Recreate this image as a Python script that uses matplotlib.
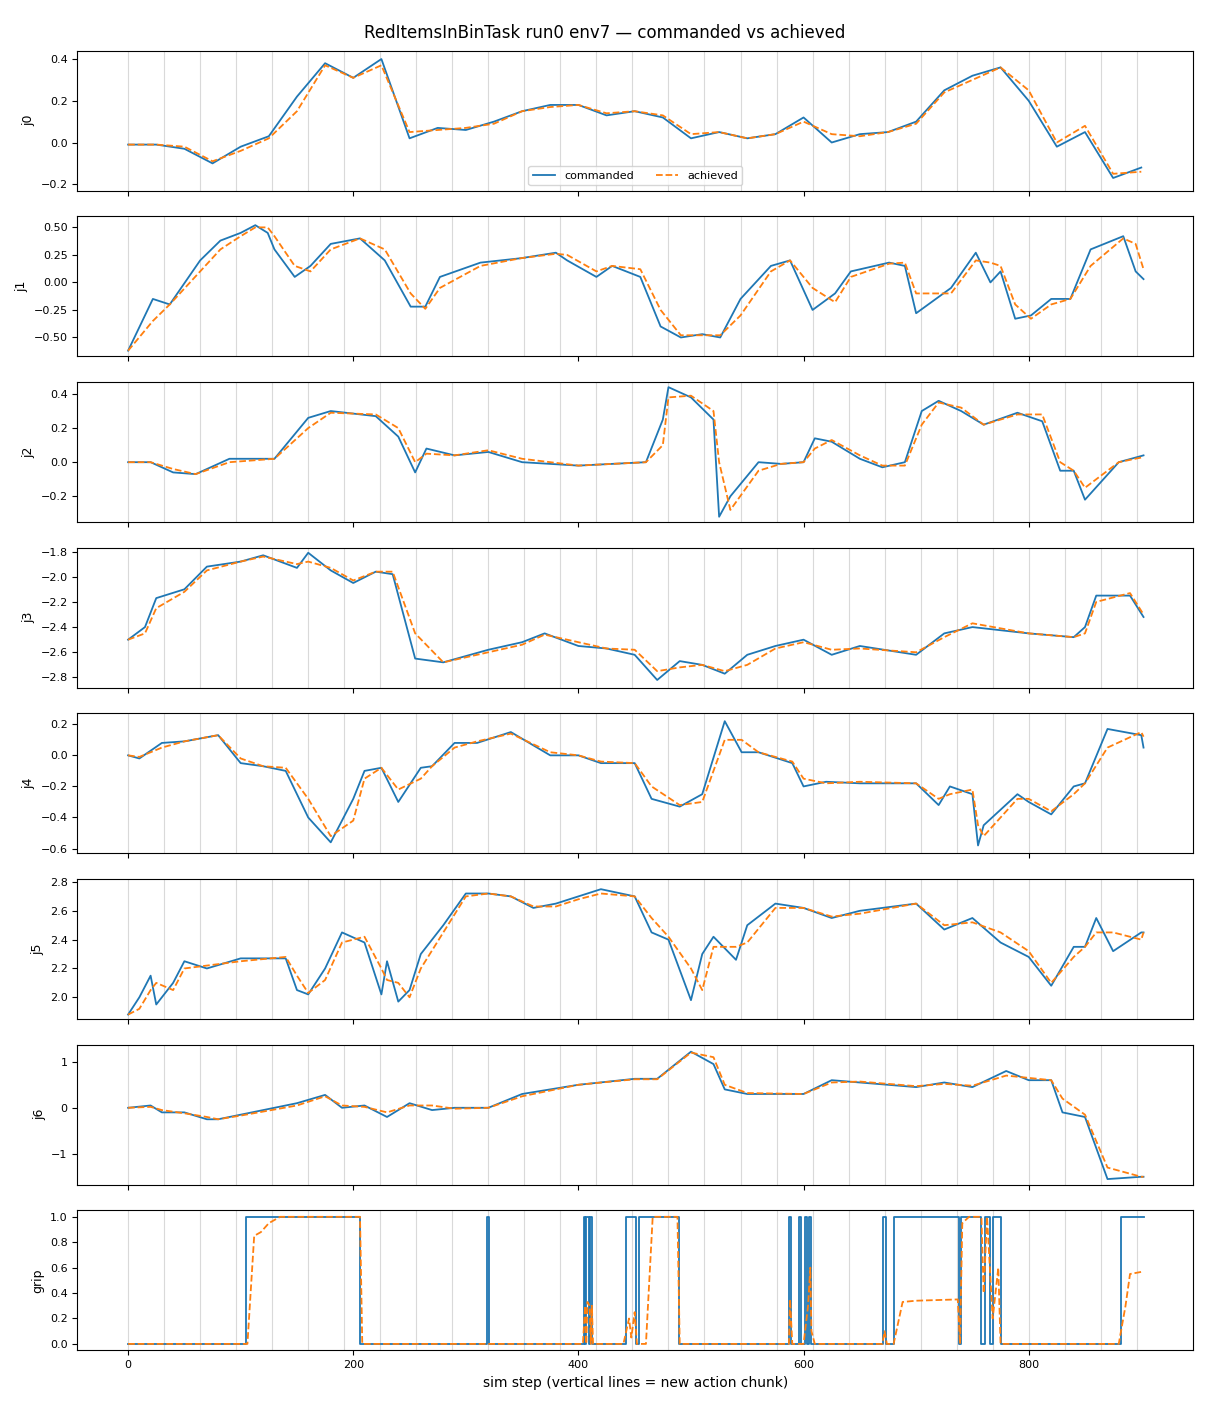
import numpy as np
import matplotlib
matplotlib.use("Agg")
import matplotlib.pyplot as plt

# ---------------- data ----------------
chunk_starts = list(range(0, 900, 32))

j0_steps = [0,25,50,75,100,125,150,175,200,225,250,275,300,325,350,375,400,425,450,475,500,525,550,575,600,625,650,675,700,725,750,775,800,825,850,875,900]
j0_cmd = [-0.01,-0.01,-0.03,-0.10,-0.02,0.03,0.22,0.38,0.31,0.40,0.02,0.07,0.06,0.10,0.15,0.18,0.18,0.13,0.15,0.12,0.02,0.05,0.02,0.04,0.12,0.00,0.04,0.05,0.10,0.25,0.32,0.36,0.20,-0.02,0.05,-0.17,-0.12]
j0_ach = [-0.01,-0.01,-0.02,-0.09,-0.04,0.02,0.15,0.37,0.31,0.37,0.05,0.06,0.07,0.09,0.15,0.17,0.18,0.14,0.15,0.13,0.04,0.05,0.02,0.04,0.10,0.04,0.03,0.05,0.09,0.24,0.30,0.36,0.25,0.00,0.08,-0.15,-0.14]

j1_steps = [0,22,37,64,82,100,113,124,130,148,162,180,206,228,251,264,277,313,349,380,390,416,430,455,473,491,510,526,544,571,588,608,628,642,676,690,700,731,753,766,775,788,802,820,837,855,884,895,902]
j1_cmd = [-0.62,-0.15,-0.2,0.2,0.38,0.45,0.52,0.45,0.3,0.05,0.15,0.35,0.40,0.2,-0.22,-0.22,0.05,0.18,0.22,0.27,0.2,0.05,0.15,0.05,-0.40,-0.50,-0.47,-0.50,-0.15,0.15,0.2,-0.25,-0.10,0.10,0.18,0.15,-0.28,-0.05,0.27,0.0,0.1,-0.33,-0.30,-0.15,-0.15,0.30,0.42,0.10,0.03]
j1_ach = [-0.62,-0.35,-0.2,0.1,0.3,0.42,0.50,0.50,0.42,0.15,0.10,0.30,0.40,0.3,-0.10,-0.24,-0.05,0.15,0.22,0.26,0.25,0.10,0.15,0.12,-0.25,-0.48,-0.48,-0.48,-0.30,0.10,0.2,-0.05,-0.18,0.05,0.17,0.18,-0.10,-0.10,0.20,0.18,0.15,-0.20,-0.33,-0.20,-0.15,0.15,0.40,0.35,0.12]

j2_steps = [0,20,40,60,90,130,160,180,220,240,255,265,290,320,350,400,460,475,480,500,520,525,535,560,580,600,610,625,650,670,690,705,720,740,760,790,812,828,840,850,880,902]
j2_cmd = [0,0.0,-0.06,-0.07,0.02,0.02,0.26,0.30,0.27,0.15,-0.06,0.08,0.04,0.06,0.0,-0.02,0.0,0.25,0.44,0.38,0.25,-0.32,-0.20,0.0,-0.01,0.0,0.14,0.12,0.02,-0.03,0.0,0.30,0.36,0.30,0.22,0.29,0.24,-0.05,-0.05,-0.22,0.0,0.04]
j2_ach = [0,0.0,-0.04,-0.07,0.0,0.02,0.20,0.29,0.28,0.20,0.0,0.05,0.04,0.07,0.02,-0.02,0.0,0.10,0.38,0.39,0.30,0.0,-0.28,-0.05,-0.01,0.0,0.08,0.13,0.04,-0.02,-0.02,0.22,0.35,0.32,0.22,0.28,0.28,0.0,-0.05,-0.15,0.0,0.03]

j3_steps = [0,15,25,50,70,100,120,150,160,180,200,220,235,255,280,320,350,370,400,425,450,470,490,510,530,550,575,600,625,650,700,725,750,800,840,850,860,890,902]
j3_cmd = [-2.5,-2.4,-2.17,-2.1,-1.92,-1.88,-1.83,-1.93,-1.81,-1.95,-2.05,-1.96,-1.98,-2.65,-2.68,-2.58,-2.52,-2.45,-2.55,-2.57,-2.62,-2.82,-2.67,-2.70,-2.77,-2.62,-2.55,-2.50,-2.62,-2.55,-2.62,-2.45,-2.40,-2.45,-2.48,-2.40,-2.15,-2.15,-2.32]
j3_ach = [-2.5,-2.45,-2.25,-2.12,-1.95,-1.88,-1.84,-1.90,-1.88,-1.93,-2.03,-1.96,-1.96,-2.45,-2.68,-2.60,-2.54,-2.46,-2.52,-2.57,-2.58,-2.75,-2.72,-2.70,-2.75,-2.70,-2.57,-2.52,-2.58,-2.57,-2.60,-2.48,-2.37,-2.45,-2.48,-2.45,-2.20,-2.13,-2.30]

j4_steps = [0,10,30,50,80,100,120,140,160,180,200,210,225,240,260,270,290,310,340,375,400,420,450,465,490,510,530,545,560,590,600,620,650,700,720,730,750,755,760,790,800,820,840,850,870,900,902]
j4_cmd = [0,-0.02,0.08,0.09,0.13,-0.05,-0.07,-0.1,-0.4,-0.56,-0.28,-0.10,-0.08,-0.3,-0.08,-0.07,0.08,0.08,0.15,0.0,0.0,-0.05,-0.05,-0.28,-0.33,-0.25,0.22,0.02,0.02,-0.05,-0.20,-0.17,-0.18,-0.18,-0.32,-0.20,-0.25,-0.58,-0.45,-0.25,-0.30,-0.38,-0.20,-0.18,0.17,0.13,0.05]
j4_ach = [0,-0.01,0.05,0.09,0.13,-0.02,-0.07,-0.08,-0.28,-0.52,-0.42,-0.15,-0.08,-0.22,-0.15,-0.07,0.05,0.09,0.14,0.02,0.0,-0.04,-0.05,-0.2,-0.32,-0.30,0.10,0.10,0.02,-0.04,-0.15,-0.18,-0.17,-0.18,-0.28,-0.25,-0.22,-0.45,-0.52,-0.28,-0.28,-0.36,-0.25,-0.18,0.05,0.15,0.12]

j5_steps = [0,10,20,25,40,50,70,100,140,150,160,175,190,210,225,230,240,250,260,280,300,320,340,360,380,400,420,450,465,480,500,510,520,540,550,575,600,625,650,700,725,750,775,800,820,840,850,860,875,900,902]
j5_cmd = [1.88,2.0,2.15,1.95,2.1,2.25,2.2,2.27,2.27,2.05,2.02,2.2,2.45,2.38,2.02,2.25,1.97,2.05,2.30,2.5,2.72,2.72,2.70,2.62,2.65,2.70,2.75,2.70,2.45,2.4,1.98,2.3,2.42,2.26,2.5,2.65,2.62,2.55,2.60,2.65,2.47,2.55,2.38,2.28,2.08,2.35,2.35,2.55,2.32,2.45,2.45]
j5_ach = [1.88,1.92,2.05,2.10,2.05,2.20,2.22,2.25,2.28,2.15,2.03,2.12,2.38,2.42,2.20,2.12,2.10,2.00,2.20,2.45,2.70,2.72,2.70,2.63,2.63,2.68,2.72,2.70,2.55,2.42,2.20,2.05,2.35,2.35,2.38,2.62,2.62,2.56,2.58,2.65,2.50,2.52,2.45,2.32,2.10,2.28,2.35,2.45,2.45,2.40,2.45]

j6_steps = [0,20,30,50,70,80,100,150,175,190,210,230,250,270,290,320,350,400,450,470,500,520,530,550,600,625,650,700,725,750,780,800,820,830,850,870,900,902]
j6_cmd = [0,0.05,-0.1,-0.1,-0.25,-0.25,-0.15,0.1,0.28,0.0,0.05,-0.2,0.1,-0.05,0,0,0.3,0.5,0.63,0.63,1.22,0.95,0.4,0.3,0.3,0.6,0.55,0.45,0.55,0.45,0.8,0.6,0.6,-0.1,-0.2,-1.55,-1.5,-1.5]
j6_ach = [0,0.02,-0.05,-0.12,-0.2,-0.25,-0.17,0.05,0.25,0.05,0.02,-0.1,0.05,0.05,-0.02,0,0.25,0.5,0.62,0.62,1.2,1.1,0.5,0.32,0.3,0.55,0.57,0.47,0.52,0.48,0.7,0.65,0.6,0.2,-0.15,-1.3,-1.5,-1.5]

grip_cmd_steps = [0,105,206,319,321,405,406,407,409,410,412,442,451,454,489,587,589,596,598,601,603,605,607,671,673,680,738,740,758,761,766,768,775,882,902]
grip_cmd = [0,1,0,1,0,1,0,1,0,1,0,1,0,1,0,1,0,1,0,1,0,1,0,1,0,1,0,1,0,1,0,1,0,1,1]
grip_ach_steps = [0,106,112,118,125,135,206,208,404,406,407,408,410,411,412,413,440,445,447,450,452,460,466,488,490,587,588,590,600,604,606,607,610,670,672,674,680,688,700,737,739,741,747,758,760,763,768,773,775,880,886,890,902]
grip_ach = [0,0,0.85,0.88,0.95,1.0,1.0,0,0,0.3,0,0.33,0.3,0.0,0.3,0.0,0,0.2,0.05,0.25,0,0,1,1,0,0,0.35,0,0,0.3,0.6,0.1,0,0,0.1,0,0,0.33,0.34,0.35,0,0.95,1.0,1.0,0.4,1.0,0.2,0.6,0,0,0.3,0.55,0.57]

panels = [
    ("j0", j0_steps, j0_cmd, j0_ach, (-0.23, 0.44)),
    ("j1", j1_steps, j1_cmd, j1_ach, (-0.67, 0.6)),
    ("j2", j2_steps, j2_cmd, j2_ach, (-0.35, 0.47)),
    ("j3", j3_steps, j3_cmd, j3_ach, (-2.88, -1.77)),
    ("j4", j4_steps, j4_cmd, j4_ach, (-0.63, 0.27)),
    ("j5", j5_steps, j5_cmd, j5_ach, (1.85, 2.82)),
    ("j6", j6_steps, j6_cmd, j6_ach, (-1.67, 1.37)),
]

fig, axes = plt.subplots(8, 1, figsize=(12.1, 14.08), dpi=100, sharex=True)
fig.subplots_adjust(left=0.064, right=0.986, top=0.964, bottom=0.041, hspace=0.185)

for ax, (name, st, cmd, ach, ylim) in zip(axes[:7], panels):
    for c in chunk_starts:
        ax.axvline(c, color="0.85", lw=0.8, zorder=0)
    ax.plot(st, cmd, color="tab:blue", lw=1.3, label="commanded")
    ax.plot(st, ach, color="tab:orange", lw=1.3, ls="--", label="achieved")
    ax.set_ylim(*ylim)
    ax.set_ylabel(name, fontsize=9)
    ax.tick_params(labelsize=8)

ax = axes[7]
for c in chunk_starts:
    ax.axvline(c, color="0.85", lw=0.8, zorder=0)
ax.step(grip_cmd_steps, grip_cmd, where="post", color="tab:blue", lw=1.3)
ax.plot(grip_ach_steps, grip_ach, color="tab:orange", lw=1.3, ls="--")
ax.set_ylim(-0.05, 1.05)
ax.set_ylabel("grip", fontsize=9)
ax.tick_params(labelsize=8)
ax.set_xlim(-45, 946)
ax.set_xlabel("sim step (vertical lines = new action chunk)", fontsize=10)

axes[0].legend(loc="lower center", ncol=2, fontsize=8)
fig.suptitle("RedItemsInBinTask run0 env7 — commanded vs achieved", fontsize=12, y=0.983)

fig.savefig("out.png", dpi=100)
